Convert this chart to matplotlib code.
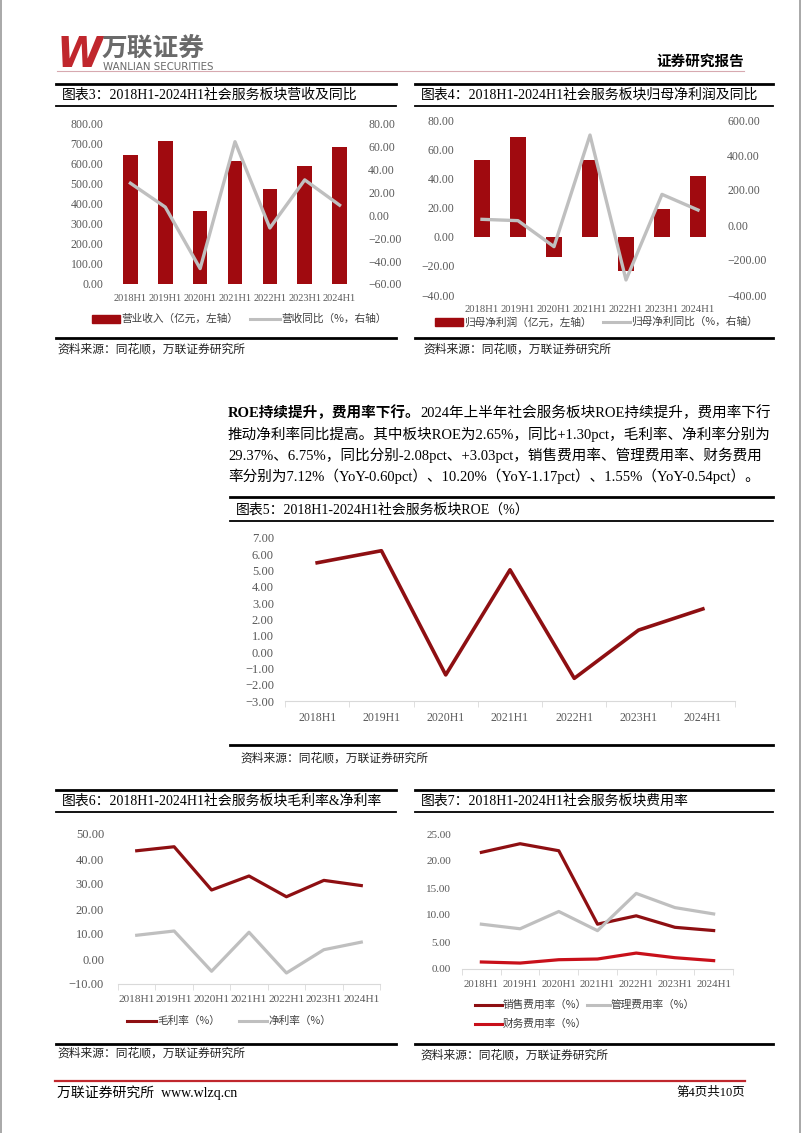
import matplotlib
matplotlib.use('Agg')
import matplotlib.pyplot as plt
from matplotlib.lines import Line2D
from matplotlib.patches import Rectangle
from matplotlib.ticker import StrMethodFormatter
import numpy as np

W, H = 802, 1133

periods = ['2018H1', '2019H1', '2020H1', '2021H1', '2022H1', '2023H1', '2024H1']
# 图表3
revenue = [646, 714, 365, 617, 476, 591, 685]
revenue_yoy = [28.2, 7.3, -46.5, 64.5, -11.0, 31.1, 9.0]
# 图表4
net_profit = [52.3, 68.1, -14.2, 52.6, -23.8, 18.7, 41.6]
net_profit_yoy = [32.4, 24.8, -123.8, 514.0, -314.0, 175.0, 85.7]
# 图表5
roe = [5.48, 6.22, -1.40, 5.05, -1.61, 1.35, 2.65]
# 图表6
gross_margin = [43.3, 44.9, 27.6, 33.2, 24.9, 31.45, 29.37]
net_margin = [9.5, 11.2, -4.9, 10.7, -5.6, 3.72, 6.75]
# 图表7
selling_rate = [21.6, 23.2, 21.9, 8.3, 9.85, 7.72, 7.12]
admin_rate = [8.3, 7.45, 10.65, 7.1, 14.0, 11.37, 10.20]
finance_rate = [1.3, 1.1, 1.72, 1.85, 2.95, 2.09, 1.55]

DARK = '#8E0F12'
BAR = '#A00A0F'
GREY = '#BFBFBF'
RED = '#C8101A'
TICK = '#595959'
MIX = ['Liberation Serif', 'Noto Sans CJK SC']
CJK = ['Noto Sans CJK SC', 'DejaVu Sans']

plt.rcParams['font.family'] = MIX

fig = plt.figure(figsize=(W / 100, H / 100), dpi=100)
x = np.arange(len(periods))


def fx(v):
    return v / W


def fy(v):
    return 1 - v / H


def axes_px(x0, y0, x1, y1):
    return fig.add_axes([x0 / W, 1 - y1 / H, (x1 - x0) / W, (y1 - y0) / H])


def hline(x0, x1, y, lw=1.0, color='black'):
    fig.add_artist(Line2D([fx(x0), fx(x1)], [fy(y), fy(y)], lw=lw, color=color,
                          transform=fig.transFigure))


def text(px, py, s, size, family=MIX, **kw):
    kw.setdefault('va', 'center')
    return fig.text(fx(px), fy(py), s, fontsize=size, family=family, **kw)


def legend_line(x0, x1, y, color, label, lw=2.2):
    fig.add_artist(Line2D([fx(x0), fx(x1)], [fy(y), fy(y)], lw=lw, color=color,
                          transform=fig.transFigure))
    text(x1 + 1, y, label, 7.7, family=CJK, color='#404040')


def legend_bar(x0, x1, y, color, label):
    fig.add_artist(Rectangle((fx(x0), fy(y + 4)), (x1 - x0) / W, 8 / H, color=color,
                             transform=fig.transFigure))
    text(x1 + 1, y, label, 7.7, family=CJK, color='#404040')


def chart_frame(x0, x1, top, title_y, under, bottom, title, src_x, src_y):
    hline(x0, x1, top, lw=2.0)
    text(x0 + 6, title_y, title, 10)
    hline(x0, x1, under, lw=1.3)
    hline(x0, x1, bottom, lw=2.0)
    text(src_x, src_y, '资料来源：同花顺，万联证券研究所', 8.5, family=CJK, color='#222222')


def style_axis(ax, ylim, step, pad=5, size=8.5):
    ax.set_ylim(*ylim)
    ax.set_yticks(np.arange(ylim[0], ylim[1] + step / 2, step))
    ax.yaxis.set_major_formatter(StrMethodFormatter('{x:.2f}'))
    ax.tick_params(axis='y', length=0, labelsize=size, labelcolor=TICK, pad=pad)
    for s in ax.spines.values():
        s.set_visible(False)
    ax.patch.set_alpha(0)


def cat_xaxis(ax, size=8, pad=5, spine=True):
    ax.set_xlim(-0.5, len(periods) - 0.5)
    ax.set_xticks(x)
    ax.set_xticklabels(periods)
    ax.tick_params(axis='x', length=0, labelsize=size, labelcolor=TICK, pad=pad)
    if spine:
        ax.spines['bottom'].set_visible(True)
        ax.spines['bottom'].set_color('#D9D9D9')
        ax.set_xticks(np.arange(-0.5, len(periods)), minor=True)
        ax.tick_params(axis='x', which='minor', length=4, color='#D9D9D9')


# ---------- page header / footer ----------
fig.add_artist(Line2D([fx(1), fx(1)], [0, 1], lw=1.2, color='#9A9A9A', transform=fig.transFigure))
fig.add_artist(Line2D([fx(800), fx(800)], [0, 1], lw=1.2, color='#9A9A9A', transform=fig.transFigure))
text(57, 55, 'W', 30, family=['DejaVu Sans'], color='#C0272D', fontweight='heavy', style='italic')
text(102, 48, '万联证券', 18.5, family=CJK, color='#6A6A6A', fontweight='bold')
text(103, 66.5, 'WANLIAN SECURITIES', 7.4, family=['DejaVu Sans'], color='#6A6A6A')
hline(57, 744, 71, lw=0.8, color='#D7A9B0')
text(744, 61, '证券研究报告', 10.5, family=CJK, ha='right', fontweight='bold')

hline(55, 745, 1081, lw=1.6, color='#C0272D')
text(57, 1093, '万联证券研究所  www.wlzq.cn', 10)
text(745, 1093, '第4页共10页', 9, ha='right')

# ---------- 图表3 ----------
chart_frame(56, 396, 84, 95, 106, 338, '图表3：2018H1-2024H1社会服务板块营收及同比', 57, 349)
ax3 = axes_px(113, 124, 357, 284)
ax3.bar(x, revenue, width=0.42, color=BAR)
style_axis(ax3, (0, 800), 100, pad=7)
cat_xaxis(ax3, size=7.5, pad=7, spine=False)
ax3b = ax3.twinx()
ax3b.plot(x, revenue_yoy, color=GREY, lw=2.4)
style_axis(ax3b, (-60, 80), 20, pad=8)
legend_bar(92, 120, 319, BAR, '营业收入（亿元，左轴）')
legend_line(250, 280, 319, GREY, '营收同比（%，右轴）')

# ---------- 图表4 ----------
chart_frame(415, 773, 84, 95, 106, 338, '图表4：2018H1-2024H1社会服务板块归母净利润及同比', 423, 349)
ax4 = axes_px(464, 120, 716, 295)
ax4.bar(x, net_profit, width=0.42, color=BAR)
style_axis(ax4, (-40, 80), 20, pad=7)
cat_xaxis(ax4, size=7.7, pad=7, spine=False)
ax4b = ax4.twinx()
ax4b.plot(x, net_profit_yoy, color=GREY, lw=2.4)
style_axis(ax4b, (-400, 600), 200, pad=8)
legend_bar(435, 463, 322, BAR, '归母净利润（亿元，左轴）')
legend_line(603, 630, 322, GREY, '归母净利同比（%，右轴）')

# ---------- 正文 ----------
r = fig.canvas.get_renderer()
t = text(228, 413, 'ROE持续提升，费用率下行。', 10.5, fontweight='bold')
bb = t.get_window_extent(r)
fig.text(bb.x1 / W, fy(413), '2024年上半年社会服务板块ROE持续提升，费用率下行',
         fontsize=10.5, family=MIX, va='center')
text(228, 434, '推动净利率同比提高。其中板块ROE为2.65%，同比+1.30pct，毛利率、净利率分别为', 10.5)
text(228, 455, '29.37%、6.75%，同比分别-2.08pct、+3.03pct，销售费用率、管理费用率、财务费用', 10.5)
text(228, 476, '率分别为7.12%（YoY-0.60pct）、10.20%（YoY-1.17pct）、1.55%（YoY-0.54pct）。', 10.5)

# ---------- 图表5 ----------
chart_frame(230, 773, 497, 510, 521, 745, '图表5：2018H1-2024H1社会服务板块ROE（%）', 240, 758)
ax5 = axes_px(285, 538, 735, 701)
ax5.plot(x, roe, color=DARK, lw=2.6)
style_axis(ax5, (-3, 7), 1, pad=8, size=9)
cat_xaxis(ax5, size=8.5, pad=8)

# ---------- 图表6 ----------
chart_frame(56, 396, 790, 801, 812, 1044, '图表6：2018H1-2024H1社会服务板块毛利率&净利率', 57, 1053)
ax6 = axes_px(118, 834, 380, 984)
ax6.plot(x, gross_margin, color=DARK, lw=2.3)
ax6.plot(x, net_margin, color=GREY, lw=2.3)
style_axis(ax6, (-10, 50), 10, pad=10, size=9)
cat_xaxis(ax6, size=8.2, pad=8)
legend_line(127, 156, 1021, DARK, '毛利率（%）')
legend_line(239, 267, 1021, GREY, '净利率（%）')

# ---------- 图表7 ----------
chart_frame(415, 773, 790, 801, 812, 1044, '图表7：2018H1-2024H1社会服务板块费用率', 420, 1055)
ax7 = axes_px(462, 834, 733, 969)
ax7.plot(x, selling_rate, color=DARK, lw=2.3)
ax7.plot(x, admin_rate, color=GREY, lw=2.3)
ax7.plot(x, finance_rate, color=RED, lw=2.3)
style_axis(ax7, (0, 25), 5, pad=8, size=8)
cat_xaxis(ax7, size=7.8, pad=8)
legend_line(475, 502, 1005, DARK, '销售费用率（%）')
legend_line(587, 610, 1005, GREY, '管理费用率（%）')
legend_line(475, 502, 1024, RED, '财务费用率（%）')

fig.savefig('out.png', dpi=100)
